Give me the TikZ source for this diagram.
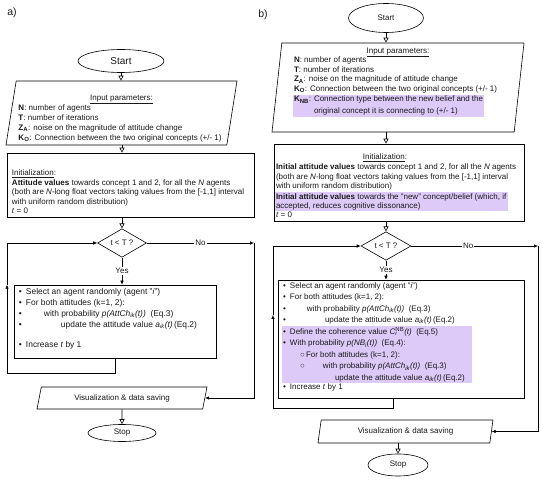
\documentclass[tikz,border=0pt]{standalone}
\usepackage{fontspec}
\setmainfont{Liberation Sans}
\usepackage{xcolor}
\usetikzlibrary{arrows.meta, positioning, shapes.geometric}

\definecolor{nbpurple}{RGB}{221,202,249}
\setlength{\fboxsep}{1pt}

\newcommand{\txt}{\fontsize{8}{9.6}\selectfont}
\newcommand{\bul}{\makebox[7pt][l]{•}}
\newcommand{\cir}{\makebox[6pt][l]{○}}

\begin{document}
\begin{tikzpicture}[x=1pt, y=-1pt, >={Latex[length=4pt, width=3.5pt]}, line width=0.6pt,
  every node/.style={text=black!90},
  term/.style={draw, ellipse, inner sep=0pt},
  io/.style={draw, trapezium, trapezium stretches body, inner sep=0pt, font=\txt},
  box/.style={draw, rectangle, inner sep=0pt, font=\txt},
  decision/.style={draw, diamond, inner sep=0pt, font=\txt},
  openarr/.style={-{Triangle[open, length=5pt, width=5pt]}},
  tag/.style={fill=white, inner sep=1pt, font=\txt}]

\useasboundingbox (0,0) rectangle (550,481);

% panel a: the original model
\node[font=\fontsize{10.5}{12}\selectfont] (labA) at (12,13) {a)};

\node[term, minimum width=86pt, minimum height=23pt, font=\fontsize{10}{12}\selectfont] (startA) at (121,61) {Start};

\node[io, trapezium left angle=80, trapezium right angle=100, minimum width=231pt, minimum height=64pt] (inA) at (121.5,113) {%
  \begin{minipage}[c][56pt][b]{206pt}\fontsize{8}{10}\selectfont
  \centering\underline{Input parameters:}\par
  \raggedright
  \textbf{N}: number of agents\\
  \textbf{T}: number of iterations\\
  \textbf{Z\textsubscript{A}}: noise on the magnitude of attitude change\\
  \textbf{K\textsubscript{O}}: Connection between the two original concepts (+/- 1)
  \end{minipage}};

\node[box, minimum width=247pt, minimum height=64pt] (initA) at (130.5,185) {%
  \begin{minipage}[c][58pt][b]{237pt}
  \underline{Initialization}:\\
  \textbf{Attitude values} towards concept 1 and 2, for all the \textit{N} agents\\
  (both are \textit{N}-long float vectors taking values from the [-1,1] interval\\
  with uniform random distribution)\\
  \textit{t} = 0
  \end{minipage}};

\node[decision, minimum width=49pt, minimum height=26pt] (decA) at (122,243) {t < T ?};

\node[box, minimum width=202pt, minimum height=73pt, font=\fontsize{8.4}{11}\selectfont] (procA) at (115,321.5) {%
  \begin{minipage}[c][67pt][t]{192pt}
  \bul Select an agent randomly (agent "\textit{i}")\\
  \bul For both attitudes (k=1, 2):\\
  \bul\hspace{18pt}with probability \textit{p(AttCh\textsubscript{ik}(t))}\ \ (Eq.3)\\
  \bul\hspace{35pt}update the attitude value \textit{a\textsubscript{ik}(t)}\,(Eq.2)\\[9pt]
  \bul Increase \textit{t} by 1
  \end{minipage}};

\node[io, trapezium left angle=60, trapezium right angle=120, minimum width=170pt, minimum height=22pt] (visA) at (122,398) {Visualization \& data saving};

\node[term, minimum width=68pt, minimum height=17pt, font=\txt] (stopA) at (122,433) {Stop};

% flow of panel a
\draw[openarr] (startA.south) -- (startA.south |- inA.north);
\draw[openarr] (decA.north |- inA.south) -- (decA.north |- initA.north);
\draw[openarr] (decA.north |- initA.south) -- (decA.north);
\draw[->] (decA.south) -- node[tag] {Yes} (decA.south |- procA.north);

\coordinate (noA) at (254,243);
\draw[->] (decA.east) -- node[tag] {No} (noA);
\draw[->] (noA) |- (visA.east);

\coordinate (loopA) at (7,373);
\draw[->] (procA.south) |- (loopA) -- (loopA |- procA.north);
\draw[->] (loopA |- procA.north) |- (decA.west);

\draw[openarr] (visA.south) -- (stopA.north);

% panel b: with the new belief
\node[font=\fontsize{10.5}{12}\selectfont] (labB) at (263,15) {b)};

\node[term, minimum width=75pt, minimum height=29pt, font=\txt] (startB) at (386,18) {Start};

\node[io, trapezium left angle=83, trapezium right angle=97, minimum width=252pt, minimum height=89pt] (inB) at (398,87.5) {%
  \begin{minipage}[c][80pt][t]{208pt}
  \centering\underline{Input parameters:}\par
  \raggedright
  \textbf{N}: number of agents\\
  \textbf{T}: number of iterations\\
  \textbf{Z\textsubscript{A}}: noise on the magnitude of attitude change\\
  \textbf{K\textsubscript{O}}: Connection between the two original concepts (+/- 1)\\[1pt]
  \hspace*{-1pt}\colorbox{nbpurple}{\parbox{189pt}{\fontsize{8}{12}\selectfont
    \textbf{K\textsubscript{NB}}: Connection type between the new belief and the\\
    \hspace*{20pt}original concept it is connecting to (+/- 1)}}
  \end{minipage}};

\node[box, minimum width=250pt, minimum height=77pt] (initB) at (399,182.5) {%
  \begin{minipage}[c][71pt][b]{246pt}
  \makebox[218pt]{\underline{Initialization}:}\\
  \textbf{Initial attitude values} towards concept 1 and 2, for all the \textit{N} agents\\
  (both are \textit{N}-long float vectors taking values from the [-1,1] interval\\
  with uniform random distribution)\\[1pt]
  \hspace*{-1pt}\colorbox{nbpurple}{\parbox{231pt}{%
    \textbf{Initial attitude values} towards the "new" concept/belief (which, if\\
    accepted, reduces cognitive dissonance)}}\\
  \textit{t} = 0
  \end{minipage}};

\node[decision, minimum width=50pt, minimum height=21pt] (decB) at (386,246) {t < T ?};

\node[box, minimum width=246pt, minimum height=118pt, font=\fontsize{8}{11.2}\selectfont] (procB) at (401,339) {%
  \begin{minipage}[c][112pt][t]{236pt}
  \bul Select an agent randomly (agent "\textit{i}")\\
  \bul For both attitudes (k=1, 2):\\
  \bul\hspace{17pt}with probability \textit{p(AttCh\textsubscript{ik}(t))}\ \ (Eq.3)\\
  \bul\hspace{35pt}update the attitude value \textit{a\textsubscript{ik}(t)}\,(Eq.2)\\[1pt]
  \hspace*{-1pt}\colorbox{nbpurple}{\parbox{188pt}{\fontsize{8}{11.6}\selectfont
    \bul Define the coherence value \textit{C}\rlap{\textsubscript{\textit{i}}}\textsuperscript{NB}\textit{(t)}\ \ (Eq.5)\\
    \bul With probability \textit{p(NB\textsubscript{i}(t))}\ \ (Eq.4):\\
    \hspace*{17pt}\cir For both attitudes (k=1, 2):\\
    \hspace*{17pt}\cir\hspace{17pt}with probability \textit{p(AttCh\textsubscript{ik}(t))}\ \ (Eq.3)\\
    \hspace*{52pt}update the attitude value \textit{a\textsubscript{ik}(t)}\,(Eq.2)}}\\
  \bul Increase \textit{t} by 1
  \end{minipage}};

\node[io, trapezium left angle=67, trapezium right angle=113, minimum width=175pt, minimum height=23pt] (visB) at (405.5,431.5) {Visualization \& data saving};

\node[term, minimum width=60pt, minimum height=22pt, font=\txt] (stopB) at (398,465) {Stop};

% flow of panel b
\draw[openarr] (startB.south) -- (startB.south |- inB.north);
\draw[openarr] (decB.north |- inB.south) -- (decB.north |- initB.north);
\draw[openarr] (decB.north |- initB.south) -- (decB.north);
\draw[->] (decB.south) -- node[tag] {Yes} (decB.south |- procB.north);

\coordinate (noB) at (538,246);
\draw[->] (decB.east) -- node[tag, pos=0.45] {No} (noB);
\draw[->] (noB) |- (visB.east);

\coordinate (loopB) at (273,408);
\coordinate (upB) at (273,315);
\draw[->] ([xshift=-8pt]procB.south) |- (loopB) -- (upB);
\draw[->] (upB) |- (decB.west);

\draw[openarr] (stopB.north |- visB.south) -- (stopB.north);

\end{tikzpicture}
\end{document}
